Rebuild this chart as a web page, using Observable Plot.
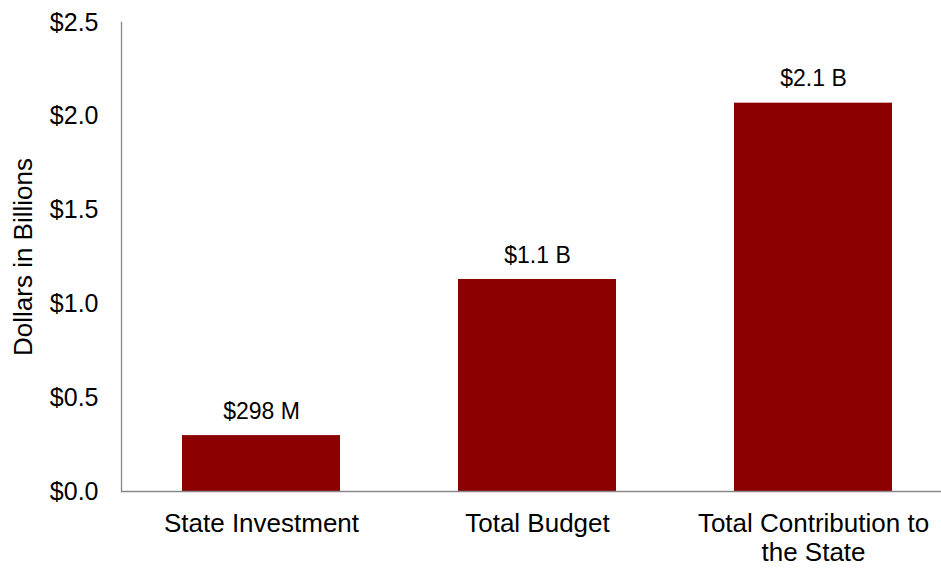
<!DOCTYPE html>
<html>
<head>
<meta charset="utf-8">
<script src="https://cdn.jsdelivr.net/npm/d3@7"></script>
<script src="https://cdn.jsdelivr.net/npm/@observablehq/plot@0.6"></script>
<style>
  html, body { margin: 0; padding: 0; background: #fff; }
  #chart svg { display: block; }
</style>
</head>
<body>
<div id="chart"></div>
<script>
const categories = ["State Investment", "Total Budget", "Total Contribution to\nthe State"];
const values = [0.298, 1.13, 2.07];
const valueLabels = ["$298 M", "$1.1 B", "$2.1 B"];
const yTicks = [0, 0.5, 1.0, 1.5, 2.0, 2.5];
const yLabel = "Dollars in Billions";

const data = categories.map((c, i) => ({category: c, value: values[i], label: valueLabels[i]}));

const axisColor = "#898989";
const font = "'Liberation Sans', Arial, Helvetica, sans-serif";

const chart = Plot.plot({
  width: 941,
  height: 569,
  marginLeft: 121,
  marginRight: 0,
  marginTop: 22,
  marginBottom: 78,
  style: {fontFamily: font, color: "#000", background: "#fff"},
  x: {domain: categories, range: [121, 952], paddingInner: 0.4286, paddingOuter: 0.217, axis: null},
  y: {domain: [0, 2.5], axis: null},
  marks: [
    Plot.barY(data, {x: "category", y: "value", fill: "#8c0000"}),
    Plot.frame({anchor: "left", stroke: axisColor, strokeWidth: 1.3}),
    Plot.ruleY([0], {stroke: axisColor, strokeWidth: 1.3}),
    Plot.axisY({ticks: yTicks, tickSize: 0, tickPadding: 23, fontSize: 25, tickFormat: d => "$" + d.toFixed(1), label: null}),
    Plot.text(data, {x: "category", y: 0, text: "category", lineAnchor: "top", dy: 20, fontSize: 26, lineHeight: 1.12, fill: "#000"}),
    Plot.text(data, {x: "category", y: "value", text: "label", lineAnchor: "bottom", dy: -17, fontSize: 23, fill: "#000"}),
    Plot.text([yLabel], {frameAnchor: "left", rotate: -90, dx: -98, lineAnchor: "middle", textAnchor: "middle", fontSize: 26, fill: "#000"})
  ]
});
document.getElementById("chart").appendChild(chart);
</script>
</body>
</html>
